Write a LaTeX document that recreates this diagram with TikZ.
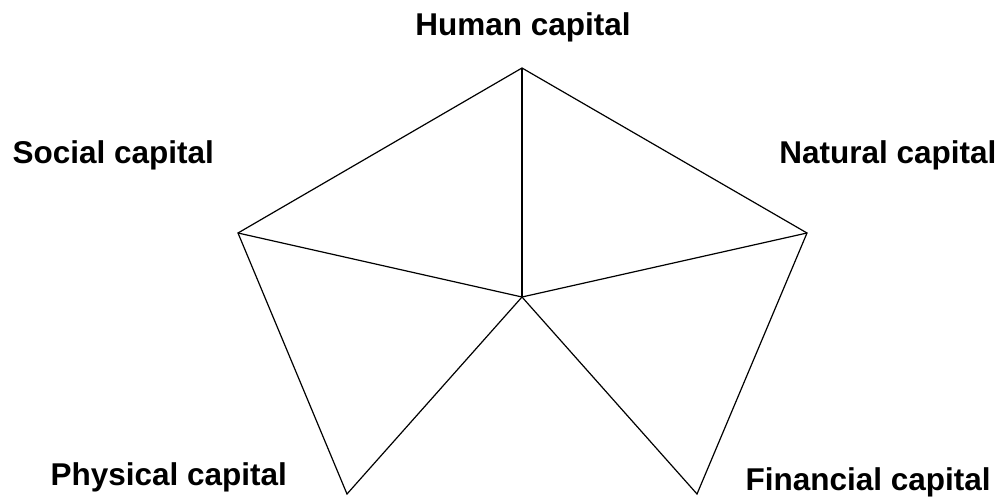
\documentclass[tikz,border=0pt]{standalone}
\usepackage{fontspec}
\setmainfont{Liberation Sans}
\tikzset{every picture/.style={line width=1.2pt}}
\tikzset{
	cap label/.style={font=\fontsize{31.5}{37}\selectfont\bfseries, inner sep=0pt}}

\begin{document}
\begin{tikzpicture}[x=1pt,y=1pt,yscale=-1,xscale=1]
	\useasboundingbox (0,0) rectangle (1002,498);

	% corners of the pentagon and its centre
	\coordinate (human) at (522,68);
	\coordinate (natural) at (807,233);
	\coordinate (financial) at (697,494);
	\coordinate (physical) at (347,494);
	\coordinate (social) at (238,233);
	\coordinate (centre) at (522,297);

	% outline
	\draw (human) -- (natural) -- (financial) -- (centre) -- (physical) -- (social) -- cycle ;
	% spokes
	\draw (centre) -- (human) ;
	\draw (centre) -- (natural) ;
	\draw (centre) -- (social) ;

	% Text Node
	\node (humanlbl) [cap label, anchor=base] at (523,35) {Human capital};
	% Text Node
	\node (sociallbl) [cap label, anchor=base west] at (12,163) {Social capital};
	% Text Node
	\node (naturallbl) [cap label, anchor=base east] at (997,163) {Natural capital};
	% Text Node
	\node (physicallbl) [cap label, anchor=base west] at (50,485) {Physical capital};
	% Text Node
	\node (financiallbl) [cap label, anchor=base west] at (745,490) {Financial capital};

\end{tikzpicture}
\end{document}
